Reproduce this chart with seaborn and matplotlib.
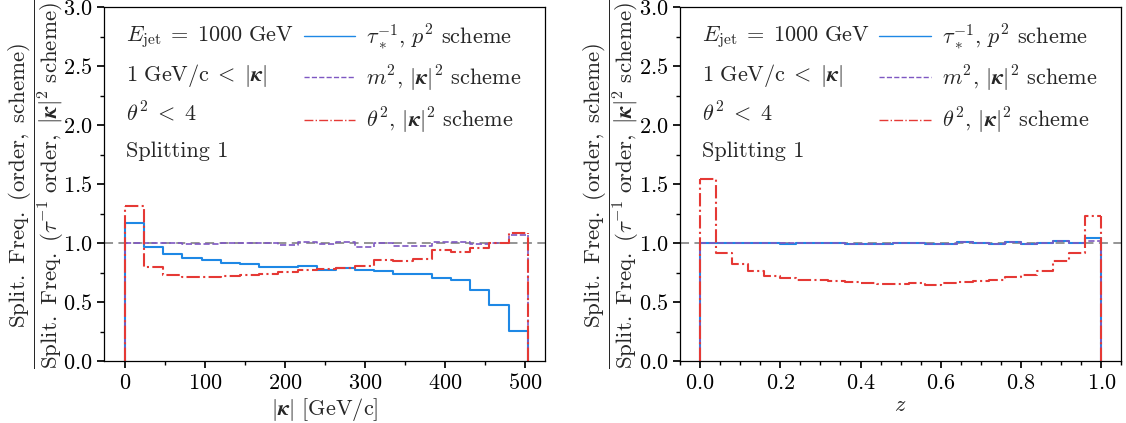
import numpy as np
import pandas as pd
import matplotlib
matplotlib.use("Agg")
import matplotlib.pyplot as plt
import seaborn as sns
from matplotlib.ticker import AutoMinorLocator, MultipleLocator

# ---------------- data ----------------
kappa_edges = np.linspace(0, 503, 22)          # 21 bins in |kappa| [GeV/c]
z_edges = np.linspace(0, 1, 26)                # 25 bins in z

kappa_tau = [1.17, 0.97, 0.91, 0.878, 0.861, 0.836, 0.825, 0.80, 0.796, 0.808, 0.774,
             0.788, 0.776, 0.768, 0.737, 0.74, 0.708, 0.689, 0.604, 0.474, 0.257]
kappa_m2 = [1.0, 1.0, 1.0, 0.997, 0.997, 1.0, 1.005, 1.005, 0.986, 1.014, 0.994,
            1.008, 0.972, 1.005, 0.975, 0.98, 1.014, 1.008, 0.99, 1.0, 1.07]
kappa_th2 = [1.319, 0.797, 0.731, 0.714, 0.717, 0.72, 0.731, 0.74, 0.757, 0.771, 0.78,
             0.788, 0.805, 0.856, 0.85, 0.867, 0.943, 0.929, 0.963, 1.0, 1.085]

z_tau = [1.0, 0.998, 1.003, 1.003, 1.002, 0.997, 1.005, 1.0, 1.0, 0.997, 0.99, 0.992,
         1.004, 1.005, 0.99, 0.995, 1.012, 1.0, 0.995, 1.01, 0.99, 1.005, 1.015, 1.0, 1.042]
z_m2 = [1.0, 0.998, 1.003, 1.003, 1.002, 1.0, 1.0, 0.998, 1.0, 0.997, 0.99, 0.99,
        1.004, 1.005, 0.99, 0.995, 1.012, 1.0, 0.995, 1.01, 0.99, 1.005, 1.015, 1.0, 1.022]
z_th2 = [1.54, 0.92, 0.82, 0.768, 0.726, 0.709, 0.692, 0.689, 0.683, 0.669, 0.661, 0.652,
         0.658, 0.663, 0.649, 0.663, 0.675, 0.683, 0.689, 0.712, 0.731, 0.768, 0.85, 0.92, 1.234]

series_labels = [r"$\tau_*^{-1}$, $p^2$ scheme",
                 r"$m^2$, $|\boldsymbol{\kappa}|^2$ scheme",
                 r"$\theta^2$, $|\boldsymbol{\kappa}|^2$ scheme"]
info_lines = [r"$E_\mathrm{jet}\;=\;1000\ \mathrm{GeV}$",
              r"$1\ \mathrm{GeV/c}\;<\;|\boldsymbol{\kappa}|$",
              r"$\theta^2\;<\;4$",
              "Splitting 1"]
xlabels = [r"$|\boldsymbol{\kappa}|$ [GeV/c]", r"$z$"]
ylabel = (r"$\dfrac{\mathrm{Split.\ Freq.\ (order,\ scheme)}}"
          r"{\mathrm{Split.\ Freq.\ (}\tau^{-1}\mathrm{\ order,\ }|\boldsymbol{\kappa}|^2\mathrm{\ scheme)}}$")

# ---------------- style ----------------
sns.set_theme(style="ticks")
plt.rcParams.update({
    "font.family": ["cmr10", "DejaVu Serif"],
    "mathtext.fontset": "cm",
    "axes.unicode_minus": False,
    "axes.formatter.use_mathtext": True,
    "font.size": 16,
    "axes.labelsize": 16,
    "xtick.labelsize": 16,
    "ytick.labelsize": 16,
    "axes.edgecolor": "black",
    "axes.linewidth": 0.9,
    "xtick.color": "black",
    "ytick.color": "black",
    "xtick.major.size": 5,
    "ytick.major.size": 5,
    "xtick.minor.size": 3,
    "ytick.minor.size": 3,
    "xtick.minor.visible": True,
    "ytick.minor.visible": True,
})

colors = ["#1E88E5", "#7E57C2", "#E53935"]
styles = ["-", "--", "-."]
widths = [1.5, 1.2, 1.5]

fig = plt.figure(figsize=(11.26, 4.23), dpi=100)
ax1 = fig.add_axes([0.0924, 0.146, 0.392, 0.837])
ax2 = fig.add_axes([0.6039, 0.146, 0.392, 0.837])

panels = [
    (ax1, kappa_edges, [kappa_tau, kappa_m2, kappa_th2]),
    (ax2, z_edges, [z_tau, z_m2, z_th2]),
]

for i, (ax, edges, series) in enumerate(panels):
    centers = 0.5 * (edges[:-1] + edges[1:])
    ax.axhline(1.0, color="#8c8c8c", ls=(0, (5, 3)), lw=1.3, zorder=1)
    handles = []
    for vals, c, ls, lw in zip(series, colors, styles, widths):
        df = pd.DataFrame({"x": centers, "w": vals})
        sns.histplot(data=df, x="x", weights="w", bins=list(edges), element="step",
                     fill=False, color=c, linestyle=ls, linewidth=lw, ax=ax)
        ax.vlines([edges[0], edges[-1]], 0, [vals[0], vals[-1]],
                  colors=c, linestyles=ls, linewidth=lw)
        h, = ax.plot([], [], color=c, ls=ls, lw=1.0)
        handles.append(h)
    ax.legend(handles, series_labels, loc="upper right", frameon=False,
              fontsize=16, handlelength=2.3, handletextpad=0.5,
              labelspacing=0.55, borderaxespad=0.3,
              bbox_to_anchor=(0.98, 1.0))
    for k, t in enumerate(info_lines):
        ax.text(0.05, 0.915 - k * 0.107, t, transform=ax.transAxes,
                fontsize=16, va="center", ha="left")
    ax.set_ylim(0, 3.0)
    ax.set_xlabel(xlabels[i], labelpad=2)
    ax.set_ylabel(ylabel, labelpad=-2, fontsize=16.5)
    ax.yaxis.set_major_locator(MultipleLocator(0.5))
    ax.yaxis.set_minor_locator(AutoMinorLocator(2))

ax1.set_xlim(-26, 525)
ax1.xaxis.set_major_locator(MultipleLocator(100))
ax1.xaxis.set_minor_locator(AutoMinorLocator(2))
ax2.set_xlim(-0.05, 1.05)
ax2.xaxis.set_major_locator(MultipleLocator(0.2))
ax2.xaxis.set_minor_locator(AutoMinorLocator(4))

fig.savefig("out.png", dpi=100)
